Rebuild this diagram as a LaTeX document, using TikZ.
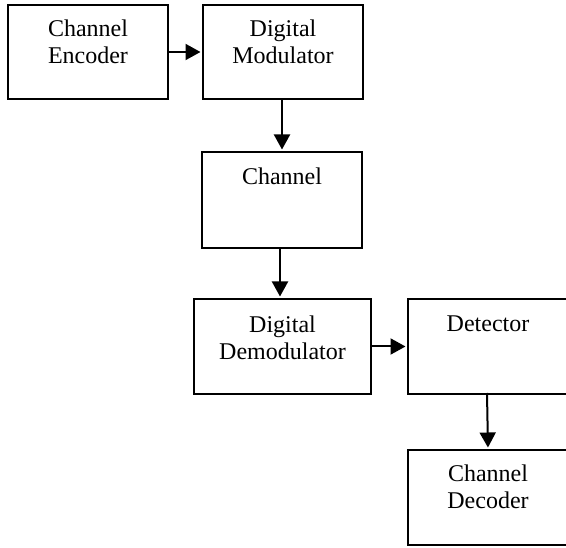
\documentclass[tikz,border=0pt]{standalone}
\usepackage{fontspec}
\setmainfont{Liberation Serif}
\usetikzlibrary{arrows.meta}
\begin{document}
\begin{tikzpicture}[x=1pt,y=-1pt,
  blk/.style={draw, line width=2pt, rectangle, inner sep=0pt},
  txt/.style={inner sep=0pt, align=center, font=\fontsize{24}{27}\selectfont, anchor=base},
  arr/.style={line width=2pt, -{Triangle[length=15pt,width=16pt]}, shorten >=1.5pt}]
\useasboundingbox (0,0) rectangle (566,548);
\clip (0,0) rectangle (566,548);
% boxes
\node[blk, minimum width=160pt, minimum height=94pt] (enc) at (88,52) {};
\node[blk, minimum width=160pt, minimum height=94pt] (mod) at (283,52) {};
\node[blk, minimum width=160pt, minimum height=96pt] (chan) at (282,200) {};
\node[blk, minimum width=177pt, minimum height=95pt] (dem) at (282.5,346.5) {};
\node[blk, minimum width=160pt, minimum height=95pt] (det) at (488,346.5) {};
\node[blk, minimum width=160pt, minimum height=95pt] (dec) at (488,497.5) {};
% texts (base = last line)
\node[txt] (tenc) at (88,64) {Channel\\Encoder};
\node[txt] (tmod) at (283,64) {Digital\\Modulator};
\node[txt] (tchan) at (282,185) {Channel};
\node[txt] (tdem) at (282.5,360) {Digital\\Demodulator};
\node[txt] (tdet) at (488,332) {Detector};
\node[txt] (tdec) at (488,509) {Channel\\Decoder};
% connectors
\draw[arr] (enc.east) -- (mod.west);
\draw[arr] ([xshift=-1pt]mod.south) -- (chan.north);
\draw[arr] ([xshift=-2pt]chan.south) -- ([xshift=-2.5pt]dem.north);
\draw[arr] (dem.east) -- (det.west);
\draw[arr] ([xshift=-1pt,yshift=2pt]det.south) -- (dec.north);
\end{tikzpicture}
\end{document}
